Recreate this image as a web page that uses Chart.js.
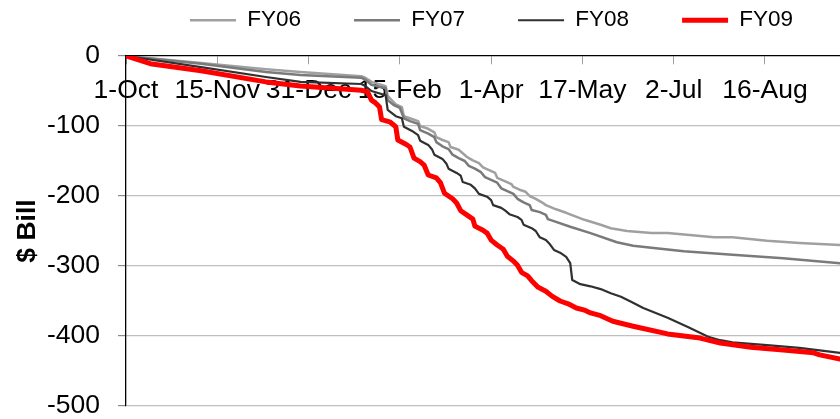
<!DOCTYPE html>
<html>
<head>
<meta charset="utf-8">
<script src="https://cdn.jsdelivr.net/npm/chart.js@4/dist/chart.umd.min.js"></script>
<style>
  html, body { margin: 0; padding: 0; background: #fff; overflow: hidden; }
  #wrap { width: 840px; height: 419px; }
</style>
</head>
<body>
<div id="wrap"><canvas id="c" width="840" height="419"></canvas></div>
<script>
// Day 0 = 1-Oct; values in $ billion (cumulative)
const seriesNames = ['FY06', 'FY07', 'FY08', 'FY09'];

const fy06Days = [0,37,69,86,116,118,121,128,129,133,136,137,141,144,145,149,152,153,156,159,160,164,166,168,171,174,176,179,182,183,187,190,191,194,197,199,202,205,207,212,217,226,234,239,247,259,267,290,299,316,332,352];
const fy06Vals = [0,-10,-19,-23,-29,-31,-37,-43,-57,-69,-73,-86,-90,-93,-100,-104,-109,-116,-120,-123,-130,-134,-139,-144,-149,-153,-159,-163,-167,-174,-179,-183,-187,-191,-194,-200,-204,-209,-213,-219,-224,-234,-241,-246,-250,-253,-253,-259,-259,-264,-267,-270];

const fy07Days = [0,37,69,86,116,118,121,128,129,132,135,137,140,144,145,149,152,153,156,159,161,164,167,169,172,175,177,180,183,185,188,191,193,196,199,200,204,207,208,212,219,229,242,250,259,275,299,324,352];
const fy07Vals = [0,-11,-23,-27,-31,-34,-41,-46,-63,-70,-74,-89,-93,-97,-106,-111,-116,-123,-129,-133,-141,-146,-150,-157,-161,-166,-173,-177,-181,-189,-193,-197,-204,-209,-213,-220,-223,-227,-233,-237,-244,-253,-266,-271,-274,-279,-284,-289,-296];

const fy08Days = [0,37,69,86,116,118,121,128,129,133,136,137,141,144,145,149,151,152,156,158,159,163,165,166,170,172,174,178,180,181,185,187,189,193,195,196,200,202,204,207,209,211,214,217,219,220,224,229,234,239,244,249,255,267,277,287,293,299,316,332,352];
const fy08Vals = [0,-16,-30,-37,-40,-43,-50,-56,-77,-86,-89,-101,-107,-113,-121,-127,-134,-141,-147,-154,-161,-167,-171,-180,-184,-189,-197,-201,-206,-213,-217,-221,-226,-230,-234,-241,-246,-250,-259,-263,-269,-277,-281,-287,-296,-320,-326,-329,-333,-339,-344,-351,-360,-374,-387,-401,-406,-409,-413,-417,-424];

const fy09Days = [0,12,37,69,86,116,119,121,123,125,126,130,133,134,138,140,142,145,147,149,153,155,157,161,163,165,168,171,172,176,178,180,183,186,188,191,193,195,198,200,203,207,210,214,218,222,226,229,234,240,250,267,283,293,308,324,339,342,352];
const fy09Vals = [0,-11,-21,-37,-43,-49,-51,-63,-67,-73,-91,-94,-101,-120,-126,-130,-146,-151,-156,-170,-174,-181,-196,-204,-210,-221,-227,-233,-243,-249,-253,-263,-270,-276,-286,-293,-299,-309,-314,-321,-330,-336,-343,-350,-354,-360,-363,-367,-371,-379,-386,-397,-403,-410,-416,-420,-424,-427,-433];

const xTickDays = [0,45,90,135,180,225,270,315];
const xTickLabels = ['1-Oct','15-Nov','31-Dec','15-Feb','1-Apr','17-May','2-Jul','16-Aug'];
const yTickValues = [0,-100,-200,-300,-400,-500];

const FONT = "'Liberation Sans', Arial, sans-serif";

function pts(days, vals) { return days.map((d, i) => ({ x: d, y: vals[i] })); }

const styles = [
  { color: '#a0a0a0', width: 2.5, order: 3 },
  { color: '#7a7a7a', width: 2.5, order: 2 },
  { color: '#303030', width: 2.2, order: 1 },
  { color: '#ff0000', width: 5,   order: 0 }
];
const allData = [pts(fy06Days, fy06Vals), pts(fy07Days, fy07Vals), pts(fy08Days, fy08Vals), pts(fy09Days, fy09Vals)];

const legendPlace = {
  id: 'legendPlace',
  afterLayout(chart) {
    const lg = chart.legend;
    if (!lg) return;
    const pad = lg.options.labels.padding;
    const cursorX = (lg.left + pad + lg.right - lg.lineWidths[0]) / 2;
    const dx = 190 - cursorX;
    lg.left += dx; lg.right += dx;
    const dy = 9 - (lg.top + pad);
    lg.top += dy; lg.bottom += dy;
  }
};

new Chart(document.getElementById('c'), {
  type: 'line',
  data: {
    datasets: seriesNames.map((name, i) => ({
      label: name,
      data: allData[i],
      borderColor: styles[i].color,
      backgroundColor: styles[i].color,
      borderWidth: styles[i].width,
      order: styles[i].order,
      pointRadius: 0,
      tension: 0,
      fill: false,
      borderJoinStyle: 'round',
      borderCapStyle: 'round'
    }))
  },
  plugins: [legendPlace],
  options: {
    responsive: false,
    animation: false,
    devicePixelRatio: 1,
    layout: { padding: { top: -29.5, bottom: 13, left: 0, right: 0 } },
    plugins: {
      tooltip: { enabled: false },
      legend: {
        display: true,
        position: 'top',
        labels: {
          font: { family: FONT, size: 22.5 },
          color: '#000',
          usePointStyle: true,
          pointStyle: 'line',
          pointStyleWidth: 46,
          padding: 53,
          sort: (a, b) => a.datasetIndex - b.datasetIndex
        }
      }
    },
    scales: {
      x: {
        type: 'linear',
        min: 0,
        max: 352,
        position: { y: 0 },
        afterBuildTicks: (scale) => { scale.ticks = xTickDays.map(v => ({ value: v })); },
        ticks: {
          autoSkip: false,
          maxRotation: 0,
          minRotation: 0,
          padding: 11,
          color: '#000',
          font: { family: FONT, size: 26.5 },
          callback: (v, i) => xTickLabels[i]
        },
        grid: { drawOnChartArea: false, drawTicks: true, tickLength: 8, tickColor: '#a0a0a0' },
        border: { display: true, color: '#000', width: 1.3 }
      },
      y: {
        type: 'linear',
        min: -500,
        max: 0,
        afterBuildTicks: (scale) => { scale.ticks = yTickValues.map(v => ({ value: v })); },
        afterFit: (scale) => { scale.width = 126; scale.paddingTop = 0; scale.paddingBottom = 0; },
        ticks: {
          padding: 18,
          color: '#000',
          font: { family: FONT, size: 26.5 },
          callback: (v) => String(v)
        },
        grid: {
          color: (ctx) => (ctx.tick && ctx.tick.value === 0) ? 'rgba(0,0,0,0)' : '#bfbfbf',
          tickColor: '#8c8c8c',
          tickLength: 8,
          lineWidth: 1.2
        },
        border: { display: true, color: '#000', width: 1.3 },
        title: {
          display: true,
          text: '$ Bill',
          color: '#000',
          font: { family: FONT, size: 26.5, weight: 'bold' },
          padding: { top: 12, bottom: 0 }
        }
      }
    }
  }
});
</script>
</body>
</html>
